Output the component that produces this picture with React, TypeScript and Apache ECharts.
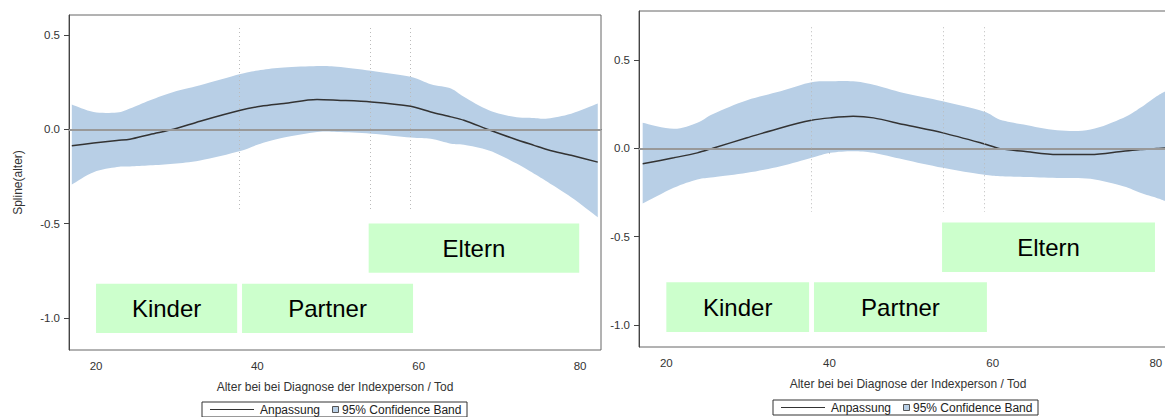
import React, { useEffect, useRef } from "react";
import * as echarts from "echarts";

// Spline fit of age effect, two models side by side
const agesA = [17.0, 19.7, 22.6, 24.2, 26.7, 29.6, 32.9, 37.9, 40.4, 43.3, 47.4, 49.9, 54.1, 59.0, 61.5, 64.0, 65.6, 68.7, 71.8, 74.3, 76.0, 78.9, 82.2];
const fitA = [-0.087, -0.073, -0.059, -0.053, -0.027, 0.0, 0.043, 0.101, 0.122, 0.137, 0.158, 0.154, 0.145, 0.122, 0.092, 0.066, 0.048, -0.002, -0.05, -0.085, -0.108, -0.138, -0.174];
const upperA = [0.131, 0.092, 0.089, 0.11, 0.154, 0.198, 0.234, 0.293, 0.314, 0.328, 0.335, 0.332, 0.31, 0.278, 0.239, 0.216, 0.172, 0.101, 0.066, 0.06, 0.057, 0.083, 0.137];
const lowerA = [-0.293, -0.227, -0.2, -0.197, -0.191, -0.183, -0.165, -0.115, -0.076, -0.044, -0.014, -0.014, -0.023, -0.044, -0.05, -0.076, -0.082, -0.112, -0.174, -0.235, -0.28, -0.36, -0.466];

const agesB = [17.1, 20.9, 23.8, 25.8, 29.9, 34.0, 37.8, 40.1, 42.9, 45.4, 49.1, 53.9, 58.8, 60.9, 63.8, 67.9, 72.0, 76.0, 78.1, 80.1, 81.2, 82.2];
const fitB = [-0.088, -0.054, -0.026, 0.002, 0.059, 0.115, 0.158, 0.172, 0.181, 0.172, 0.134, 0.087, 0.027, -0.002, -0.017, -0.036, -0.036, -0.017, -0.007, -0.002, 0.002, 0.005];
const upperB = [0.144, 0.11, 0.144, 0.196, 0.272, 0.323, 0.374, 0.379, 0.379, 0.36, 0.313, 0.266, 0.21, 0.162, 0.134, 0.102, 0.106, 0.172, 0.229, 0.294, 0.323, 0.35];
const lowerB = [-0.313, -0.224, -0.177, -0.164, -0.139, -0.102, -0.054, -0.026, -0.017, -0.026, -0.064, -0.111, -0.149, -0.158, -0.162, -0.168, -0.173, -0.215, -0.252, -0.281, -0.3, -0.32];

// Age cut points of the relationship groups
const cutAges = [37.8, 54.0, 59.0];

// Relationship groups: label, age range, row (0 = upper row, 1 = lower row)
const groupNames = ["Kinder", "Partner", "Eltern"];
const groupFrom = [20.0, 38.1, 53.8];
const groupTo = [37.5, 59.3, 79.9];
const groupRow = [1, 1, 0];

const xTicks = [20, 40, 60, 80];
const yTicks = [-1.0, -0.5, 0.0, 0.5];

const FONT = '"Liberation Sans", Arial, sans-serif';
const BAND = "#b8cfe6";

type Panel = {
  ages: number[];
  fit: number[];
  upper: number[];
  lower: number[];
  yMin: number;
  yMax: number;
  cutTop: number;
  cutBottom: number;
  rows: number[][];
};

const panels: Panel[] = [
  { ages: agesA, fit: fitA, upper: upperA, lower: lowerA, yMin: -1.17, yMax: 0.606, cutTop: 0.537, cutBottom: -0.43, rows: [[-0.5, -0.76], [-0.819, -1.08]] },
  { ages: agesB, fit: fitB, upper: upperB, lower: lowerB, yMin: -1.125, yMax: 0.777, cutTop: 0.685, cutBottom: -0.36, rows: [[-0.42, -0.7], [-0.758, -1.04]] },
];

const grids = [
  { left: 69, top: 15, width: 532, height: 335 },
  { left: 639, top: 11, width: 538, height: 336 },
];

// Catmull-Rom smoothing of an edge given in pixel space
function smoothEdge(pts: number[][], steps = 8): number[][] {
  const out: number[][] = [];
  const n = pts.length;
  for (let i = 0; i < n - 1; i++) {
    const p0 = pts[Math.max(i - 1, 0)];
    const p1 = pts[i];
    const p2 = pts[i + 1];
    const p3 = pts[Math.min(i + 2, n - 1)];
    for (let s = 0; s < steps; s++) {
      const t = s / steps;
      const t2 = t * t;
      const t3 = t2 * t;
      out.push(
        [0, 1].map(
          (d) =>
            0.5 *
            (2 * p1[d] +
              (-p0[d] + p2[d]) * t +
              (2 * p0[d] - 5 * p1[d] + 4 * p2[d] - p3[d]) * t2 +
              (-p0[d] + 3 * p1[d] - 3 * p2[d] + p3[d]) * t3)
        )
      );
    }
  }
  out.push(pts[n - 1]);
  return out;
}

function legendGraphic(x: number, y: number) {
  const h = 15;
  const cy = y + h / 2;
  const txt = (t: string, tx: number) => ({
    type: "text",
    x: tx,
    y: cy,
    style: { text: t, fontSize: 12, fontFamily: FONT, fill: "#222", verticalAlign: "middle", align: "left" },
  });
  return [
    { type: "rect", shape: { x, y, width: 265, height: h }, style: { fill: "#fff", stroke: "#333", lineWidth: 1 } },
    { type: "line", shape: { x1: x + 8, y1: cy, x2: x + 52, y2: cy }, style: { stroke: "#333", lineWidth: 1 } },
    txt("Anpassung", x + 58),
    { type: "rect", shape: { x: x + 130.5, y: cy - 3, width: 6, height: 6 }, style: { fill: BAND, stroke: "#555", lineWidth: 1 } },
    txt("95% Confidence Band", x + 140),
  ];
}

export default function App() {
  const ref = useRef<HTMLDivElement>(null);

  useEffect(() => {
    if (!ref.current) return;
    const chart = echarts.init(ref.current, null, { renderer: "svg" });

    const xAxis: any[] = [];
    const yAxis: any[] = [];
    const series: any[] = [];

    panels.forEach((p, i) => {
      xAxis.push({
        type: "value",
        gridIndex: i,
        min: 16.65,
        max: 82.6,
        name: "Alter bei bei Diagnose der Indexperson / Tod",
        nameLocation: "middle",
        nameGap: 31,
        nameTextStyle: { fontSize: 12, fontFamily: FONT, color: "#333" },
        axisLine: { lineStyle: { color: "#444", width: 1 } },
        axisTick: { customValues: xTicks, length: 5, lineStyle: { color: "#444" } },
        axisLabel: { customValues: xTicks, margin: 10, fontSize: 11.5, fontFamily: FONT, color: "#333" },
        splitLine: { show: false },
      });
      yAxis.push({
        type: "value",
        gridIndex: i,
        min: p.yMin,
        max: p.yMax,
        name: i === 0 ? "Spline(alter)" : "",
        nameLocation: "middle",
        nameGap: 45,
        nameTextStyle: { fontSize: 12, fontFamily: FONT, color: "#333" },
        axisLine: { show: true, lineStyle: { color: "#444", width: 1 } },
        axisTick: { show: true, customValues: yTicks, length: 5, lineStyle: { color: "#444" } },
        axisLabel: {
          customValues: yTicks,
          margin: 9,
          fontSize: 11.5,
          fontFamily: FONT,
          color: "#333",
          formatter: (v: number) => v.toFixed(1),
        },
        splitLine: { show: false },
      });

      // Confidence band as one filled polygon: upper edge forward, lower edge back
      series.push({
        type: "custom",
        name: "95% Confidence Band",
        xAxisIndex: i,
        yAxisIndex: i,
        silent: true,
        z: 2,
        encode: { x: 0, y: [1, 2] },
        data: p.ages.map((a, k) => [a, p.lower[k], p.upper[k]]),
        renderItem: (params: any, api: any) => {
          if (params.dataIndex !== 0) return null;
          const up = p.ages.map((a, k) => api.coord([a, p.upper[k]]));
          const lo = p.ages.map((a, k) => api.coord([a, p.lower[k]]));
          const points = [...smoothEdge(up), ...smoothEdge(lo).reverse()];
          return { type: "polygon", shape: { points }, style: { fill: BAND } };
        },
        markArea: {
          silent: true,
          itemStyle: { color: "#ccffcc" },
          label: { show: true, position: "inside", fontSize: 24, fontFamily: FONT, color: "#000" },
          data: groupNames.map((g, k) => [
            { name: g, coord: [groupFrom[k], p.rows[groupRow[k]][0]] },
            { coord: [groupTo[k], p.rows[groupRow[k]][1]] },
          ]),
        },
        markLine: {
          silent: true,
          symbol: "none",
          label: { show: false },
          data: [
            { yAxis: 0, lineStyle: { color: "#999", width: 2, type: "solid" } },
            ...cutAges.map((c) => [
              { coord: [c, p.cutTop], lineStyle: { color: "#bbbbbb", width: 1, type: [1, 3] } },
              { coord: [c, p.cutBottom] },
            ]),
          ],
        },
      });
      series.push({
        type: "line",
        name: "Anpassung",
        xAxisIndex: i,
        yAxisIndex: i,
        smooth: 0.3,
        symbol: "none",
        silent: true,
        lineStyle: { color: "#333", width: 1.5 },
        data: p.ages.map((a, k) => [a, p.fit[k]]),
        z: 4,
      });
    });

    chart.setOption({
      animation: false,
      backgroundColor: "#fff",
      grid: grids.map((g) => ({ ...g, show: true, borderColor: "#666", borderWidth: 1, backgroundColor: "transparent" })),
      xAxis,
      yAxis,
      series,
      graphic: [...legendGraphic(202, 402), ...legendGraphic(773, 400)],
    });

    return () => chart.dispose();
  }, []);

  return (
    <div
      ref={ref}
      style={{ position: "fixed", left: 0, top: 0, width: 1185, height: 417 }}
    />
  );
}
